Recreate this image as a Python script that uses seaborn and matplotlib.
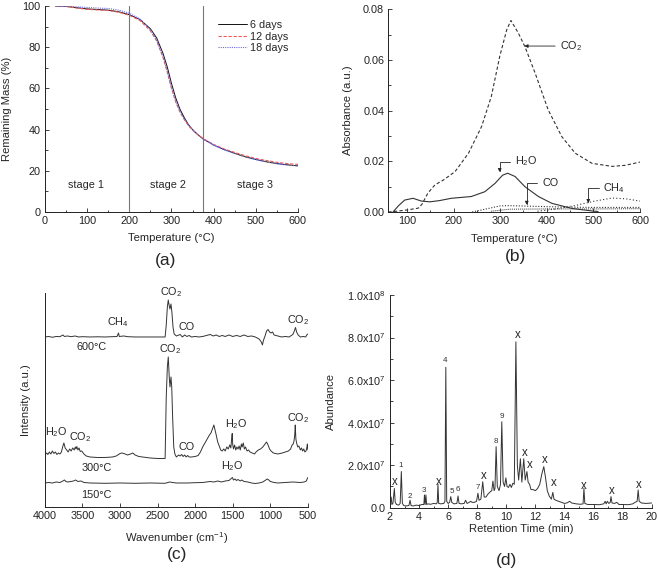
import numpy as np
import pandas as pd
import matplotlib
matplotlib.use('Agg')
import matplotlib.pyplot as plt
import seaborn as sns
from matplotlib.ticker import MultipleLocator

# ---- (a) TGA curves ----
tga_temp = [25, 50, 75, 100, 125, 150, 175, 200, 225, 250, 265, 280, 290, 300, 310,
            320, 330, 340, 350, 360, 375, 400, 425, 450, 475, 500, 525, 550, 575, 600]
mass_6d = [100, 99.8, 99.2, 98.6, 98.3, 98.0, 97.2, 95.8, 93.5, 89.0, 84.5, 77.0, 70.5, 62.5, 55.5,
           50.0, 46.0, 42.5, 40.0, 38.0, 35.5, 32.5, 30.3, 28.5, 26.8, 25.5, 24.4, 23.5, 22.9, 22.4]
mass_12d = [100, 99.8, 99.0, 98.4, 98.1, 97.8, 97.0, 95.5, 93.0, 88.0, 83.0, 75.0, 68.0, 60.0, 53.5,
            48.5, 45.0, 42.0, 39.8, 38.0, 35.6, 32.8, 30.6, 28.9, 27.3, 26.0, 25.0, 24.1, 23.5, 23.1]
mass_18d = [100, 99.9, 99.6, 99.3, 99.0, 98.8, 98.0, 96.5, 93.8, 88.5, 83.5, 75.5, 68.5, 60.5, 54.0,
            49.0, 45.3, 42.2, 40.0, 38.0, 35.4, 32.4, 30.2, 28.4, 26.7, 25.4, 24.3, 23.4, 22.8, 22.3]
stage_bounds = [200, 375]
stage_names = ['stage 1', 'stage 2', 'stage 3']
stage_x = [97, 292, 498]

# ---- (b) evolved gas absorbance ----
co2_T = [60, 73, 100, 124, 132, 145, 160, 178, 203, 232, 260, 281, 299, 314, 323, 339, 353,
         375, 403, 432, 461, 497, 540, 568, 600]
co2_A = [0, 0.0002, 0.0008, 0.0015, 0.003, 0.0075, 0.0107, 0.0126, 0.0159, 0.0232, 0.0337, 0.0456,
         0.0614, 0.0719, 0.0756, 0.0706, 0.0653, 0.0548, 0.0403, 0.0298, 0.0232, 0.0192, 0.0180,
         0.0184, 0.0197]
h2o_T = [70, 82, 95, 113, 131, 149, 170, 195, 238, 267, 289, 305, 316, 332, 353, 382, 411, 454, 497, 510]
h2o_A = [0, 0.0025, 0.0047, 0.0054, 0.0043, 0.0040, 0.0045, 0.0054, 0.0061, 0.0080, 0.0113, 0.0145,
         0.0153, 0.0140, 0.0100, 0.0061, 0.0034, 0.0014, 0.0004, 0.0002]
co_T = [240, 270, 300, 320, 360, 400, 450, 500, 600]
co_A = [0, 0.0012, 0.0024, 0.0025, 0.0023, 0.0021, 0.0019, 0.0018, 0.0018]
low_T = [280, 320, 400, 500, 600]
low_A = [0.0003, 0.0011, 0.0012, 0.0012, 0.0013]
ch4_T = [380, 420, 460, 500, 540, 570, 600]
ch4_A = [0.0003, 0.0012, 0.0025, 0.0042, 0.0055, 0.0052, 0.0043]

# ---- (c) FTIR spectra (relative to own baseline) ----
ir_600 = [(4000, 0), (3950, 0.5), (3900, -0.3), (3850, 0.5), (3800, 0.3), (3760, 2), (3740, 0.5),
          (3700, 1), (3650, 0.3), (3600, 1), (3550, 0), (3500, 0.3), (3400, 0), (3300, 0.2), (3200, 0),
          (3100, 0.3), (3040, 0.5), (3020, 4), (3010, 0.5), (2950, 1), (2900, 0.3), (2800, 0),
          (2600, 0), (2400, 0), (2385, 12), (2370, 30), (2358, 37), (2345, 31), (2335, 28),
          (2322, 33), (2310, 25), (2295, 10), (2280, 3), (2250, 1), (2200, 2.5), (2170, 0),
          (2140, 2), (2110, 0.5), (2080, 1.5), (2050, 0), (2000, 0.5), (1950, 0), (1900, 0.5),
          (1850, 1.5), (1800, 2.5), (1760, 1), (1720, 2), (1680, 0.5), (1640, 1.5), (1600, 0.5),
          (1550, 2), (1500, 0.5), (1450, 1.5), (1400, 0.5), (1350, 2), (1300, 0.5), (1250, 1),
          (1200, 0), (1150, -2), (1120, -5), (1105, -8), (1090, -3), (1070, 1), (1050, 6),
          (1030, 7.5), (1010, 5), (990, 4), (970, 5), (950, 2), (900, 1), (850, 0), (800, 0.5),
          (750, 0), (700, 2.5), (680, 6), (665, 9.5), (650, 5), (630, 2), (600, 0), (560, 0.5),
          (530, 0), (510, 2.5), (500, 3)]
ir_300 = [(4000, 2), (3975, 4), (3960, 2.5), (3940, 5), (3920, 3), (3900, 6), (3880, 3.5), (3860, 5),
          (3840, 2.5), (3820, 4), (3800, 3), (3780, 5), (3760, 11), (3747, 14), (3730, 9), (3710, 7),
          (3690, 5), (3670, 8), (3650, 6), (3630, 9), (3610, 7), (3595, 10), (3585, 8), (3575, 10.5),
          (3560, 7), (3545, 9), (3530, 5.5), (3510, 6), (3480, 3), (3450, 1), (3400, 0), (3300, -0.5),
          (3200, -0.5), (3100, 0), (3050, 1), (3000, 3.5), (2975, 4), (2950, 3.5), (2900, 2),
          (2860, 3), (2830, 4), (2800, 2), (2750, 0.5), (2700, 0), (2600, -1), (2500, -1.5),
          (2400, -1.5), (2395, 20), (2385, 60), (2370, 90), (2358, 100), (2345, 80), (2335, 70),
          (2322, 80), (2312, 70), (2300, 40), (2285, 10), (2270, 3), (2250, 0), (2220, 2), (2200, 1),
          (2180, 2.5), (2160, 0.5), (2140, 2), (2120, 0), (2100, 1.5), (2080, 0), (2050, 0),
          (2000, 0.5), (1960, 1.5), (1930, 5), (1900, 10), (1870, 14), (1840, 18), (1810, 22),
          (1790, 24), (1770, 28), (1751, 32), (1735, 27), (1720, 22), (1700, 15), (1680, 11),
          (1660, 7), (1640, 6), (1620, 8), (1600, 6), (1580, 10), (1560, 8), (1540, 12), (1525, 9),
          (1515, 18), (1507, 23.5), (1500, 12), (1490, 8), (1475, 12), (1460, 7), (1445, 10),
          (1430, 8), (1415, 11), (1400, 7), (1385, 13), (1375, 10), (1360, 14), (1345, 8),
          (1330, 10), (1310, 6), (1290, 7), (1270, 5), (1240, 4), (1210, 3), (1190, 5), (1160, 7),
          (1130, 8), (1100, 10), (1070, 13), (1050, 15), (1030, 12), (1010, 8), (990, 6), (960, 4),
          (930, 3.5), (900, 3), (870, 3.5), (840, 4), (800, 5), (760, 6), (730, 8), (710, 12),
          (695, 13), (685, 16), (675, 22), (668, 32), (660, 18), (650, 14), (635, 10), (620, 11),
          (600, 7), (585, 9), (570, 6), (555, 8), (540, 5), (525, 6), (515, 9), (507, 13), (500, 7)]
ir_150 = [(4000, 0), (3950, 0.5), (3900, 0), (3850, 1), (3800, 0.5), (3760, 2), (3740, 3), (3720, 1.5),
          (3700, 1), (3650, 1.5), (3620, 2), (3590, 3), (3560, 1.5), (3520, 2), (3480, 0.5), (3400, 0),
          (3200, -0.3), (3000, 0), (2800, -0.3), (2600, 0), (2400, -0.3), (2340, 1), (2300, 0.5),
          (2250, 0), (2100, 0), (2000, 0.3), (1900, 0.5), (1800, 1.5), (1750, 1), (1700, 2),
          (1650, 1), (1600, 2), (1550, 2.5), (1520, 4.5), (1505, 5.5), (1490, 3), (1470, 4),
          (1450, 2.5), (1430, 3.5), (1400, 2), (1380, 3), (1350, 1.5), (1300, 1), (1250, 0),
          (1200, -0.5), (1150, 0), (1100, 1), (1070, 2.5), (1040, 4), (1020, 3), (1000, 1.5),
          (950, 0.5), (900, 0), (800, 0.5), (700, 1), (600, 0.5), (550, 1), (520, 2), (505, 5),
          (500, 5.5)]
ir_offsets = {'150°C': 24, '300°C': 50, '600°C': 170}

# ---- (d) GC-MS chromatogram (abundance in 1e6) ----
gc_points = [(2.0, 2), (2.08, 5), (2.13, 1.5), (2.2, 2), (2.3, 9), (2.36, 2.5), (2.45, 1.5), (2.6, 1.2),
             (2.7, 2), (2.78, 17), (2.85, 2), (2.95, 1), (3.1, 0.8), (3.3, 1), (3.38, 3.5), (3.45, 1),
             (3.6, 0.8), (3.8, 1.2), (4.0, 1), (4.2, 1.5), (4.33, 1.5), (4.37, 6), (4.42, 1.5),
             (4.47, 6), (4.52, 1.5), (4.6, 1.8), (4.8, 1.6), (5.0, 2), (5.2, 1.8), (5.25, 2.5),
             (5.3, 11), (5.35, 2), (5.5, 1.8), (5.7, 2), (5.78, 3), (5.84, 66), (5.9, 3), (6.0, 2),
             (6.1, 2.5), (6.18, 5.2), (6.25, 2.5), (6.4, 1.8), (6.6, 2), (6.68, 5.5), (6.75, 2),
             (6.9, 1.8), (7.1, 2), (7.2, 3.5), (7.3, 2), (7.45, 2.5), (7.55, 3), (7.65, 2.5),
             (7.8, 2.5), (7.95, 3), (8.05, 6.8), (8.12, 3.5), (8.25, 4), (8.38, 12.2), (8.48, 5),
             (8.6, 5), (8.75, 6.5), (8.9, 7.5), (9.0, 8), (9.08, 12.5), (9.16, 8), (9.22, 9),
             (9.3, 28.7), (9.38, 10), (9.5, 8), (9.6, 11), (9.69, 40.4), (9.78, 12), (9.88, 10),
             (9.97, 14), (10.05, 10), (10.15, 9.5), (10.25, 11), (10.35, 9.5), (10.45, 11.5),
             (10.55, 11), (10.66, 78), (10.76, 20), (10.85, 13), (10.97, 23), (11.07, 12),
             (11.2, 23), (11.3, 13), (11.42, 17), (11.5, 12), (11.6, 11), (11.7, 8.5), (11.85, 8.5),
             (12.0, 8), (12.15, 9), (12.3, 11), (12.45, 16), (12.58, 19.3), (12.7, 14), (12.82, 8),
             (12.95, 5.5), (13.1, 4), (13.2, 7.2), (13.28, 4), (13.4, 3.5), (13.6, 3), (13.8, 2.5),
             (14.0, 2), (14.2, 2.3), (14.35, 3), (14.5, 2.2), (14.8, 1.8), (15.1, 1.6), (15.28, 1.8),
             (15.34, 9.1), (15.4, 2), (15.6, 1.5), (16.0, 1.5), (16.4, 1.4), (16.7, 1.8), (16.8, 3),
             (16.87, 1.8), (16.95, 3), (17.05, 2), (17.15, 2.5), (17.2, 5.2), (17.27, 2.2),
             (17.45, 2), (17.6, 2.5), (17.75, 1.5), (18.0, 1.5), (18.4, 1.4), (18.7, 1.8),
             (18.85, 2.5), (19.0, 3), (19.07, 8.3), (19.14, 3), (19.3, 2.2), (19.6, 2), (20.0, 2.2)]
num_labels = [('1', 2.73, 19.6), ('2', 3.38, 5.2), ('3', 4.36, 8.0), ('4', 5.8, 69), ('5', 6.29, 7.5),
              ('6', 6.7, 8.6), ('7', 8.06, 9.6), ('8', 9.29, 31), ('9', 9.68, 43)]
x_marks = [(2.34, 12.2), (5.33, 12.2), (8.42, 15), (10.76, 81), (11.29, 25.5), (11.59, 20),
           (12.67, 22.4), (13.24, 11.8), (15.35, 10.2), (17.25, 8), (19.13, 10.8)]
gc_yticks = [0, 2e7, 4e7, 6e7, 8e7, 1e8]
gc_yticklabels = ['0.0', '2.0x10$^7$', '4.0x10$^7$', '6.0x10$^7$', '8.0x10$^7$', '1.0x10$^8$']

# ---- style ----
sns.set_theme(style='ticks')
plt.rcParams['font.family'] = ['Liberation Sans', 'DejaVu Sans']
plt.rcParams['mathtext.fontset'] = 'custom'
plt.rcParams['mathtext.rm'] = 'Liberation Sans'
plt.rcParams['mathtext.it'] = 'Liberation Sans'
plt.rcParams['mathtext.default'] = 'rm'
plt.rcParams['axes.linewidth'] = 0.7
plt.rcParams['axes.edgecolor'] = '#222222'

FS = 7.8     # tick labels / annotations
LFS = 8.1    # axis labels
PFS = 12.5   # panel letters
fig = plt.figure(figsize=(6.6, 5.68), dpi=100)


def style_axis(ax):
    sns.despine(ax=ax)
    ax.tick_params(which='both', direction='in', labelsize=FS, width=0.6, colors='#222222', pad=3)
    ax.tick_params(which='major', length=3)
    ax.tick_params(which='minor', length=1.8)


# (a)
ax_a = fig.add_axes([0.068, 0.6268, 0.3835, 0.3626])
sns.lineplot(x=tga_temp, y=mass_6d, ax=ax_a, color='#111111', lw=0.7, label='6 days', estimator=None)
sns.lineplot(x=tga_temp, y=mass_12d, ax=ax_a, color='#ee5c5c', lw=0.8, linestyle=(0, (3, 1.5)),
             label='12 days', estimator=None)
sns.lineplot(x=tga_temp, y=mass_18d, ax=ax_a, color='#6c6ce2', lw=0.8, linestyle=(0, (1, 1)),
             label='18 days', estimator=None)
for b in stage_bounds:
    ax_a.axvline(b, color='#777777', lw=0.8)
for name, sx in zip(stage_names, stage_x):
    ax_a.text(sx, 13, name, fontsize=FS, ha='center', va='center')
ax_a.set_xlim(0, 600)
ax_a.set_ylim(0, 100)
ax_a.xaxis.set_major_locator(MultipleLocator(100))
ax_a.xaxis.set_minor_locator(MultipleLocator(50))
ax_a.yaxis.set_major_locator(MultipleLocator(20))
ax_a.yaxis.set_minor_locator(MultipleLocator(10))
ax_a.set_xlabel('Temperature (°C)', fontsize=LFS)
ax_a.set_ylabel('Remaining Mass (%)', fontsize=LFS)
ax_a.xaxis.set_label_coords(0.5, -0.104)
ax_a.yaxis.set_label_coords(-0.128, 0.5)
ax_a.legend(loc='upper right', frameon=False, fontsize=FS, handlelength=2.6, handletextpad=0.3,
            labelspacing=0.15, bbox_to_anchor=(1.0, 0.98))
style_axis(ax_a)

# (b)
ax_b = fig.add_axes([0.5884, 0.6268, 0.3813, 0.3568])
sns.lineplot(x=co2_T, y=co2_A, ax=ax_b, color='#333333', lw=0.8, linestyle=(0, (3, 2)), estimator=None)
sns.lineplot(x=h2o_T, y=h2o_A, ax=ax_b, color='#333333', lw=0.8, estimator=None)
sns.lineplot(x=co_T, y=co_A, ax=ax_b, color='#333333', lw=0.8, linestyle=(0, (1, 1.5)), estimator=None)
sns.lineplot(x=low_T, y=low_A, ax=ax_b, color='#333333', lw=0.7, linestyle=(0, (1, 1)), estimator=None)
sns.lineplot(x=ch4_T, y=ch4_A, ax=ax_b, color='#333333', lw=0.8, linestyle=(0, (1, 2)), estimator=None)
arr = dict(arrowstyle='-|>', color='#222222', lw=0.6, mutation_scale=5, shrinkA=1, shrinkB=0)
ax_b.annotate('CO$_2$', xy=(352, 0.0655), xytext=(428, 0.0655), fontsize=FS, ha='left', va='center',
              arrowprops=arr)
ax_b.annotate('H$_2$O', xy=(299, 0.0157), xytext=(332, 0.0199), fontsize=FS, ha='left', va='center',
              arrowprops=dict(arr, connectionstyle='angle,angleA=0,angleB=90,rad=0'))
ax_b.annotate('CO', xy=(357, 0.0028), xytext=(390, 0.0116), fontsize=FS, ha='left', va='center',
              arrowprops=dict(arr, connectionstyle='angle,angleA=0,angleB=90,rad=0'))
ax_b.annotate('CH$_4$', xy=(489, 0.0035), xytext=(521, 0.0094), fontsize=FS, ha='left', va='center',
              arrowprops=dict(arr, connectionstyle='angle,angleA=0,angleB=90,rad=0'))
ax_b.set_xlim(60, 600)
ax_b.set_ylim(0, 0.08)
ax_b.set_xticks([100, 200, 300, 400, 500, 600])
ax_b.xaxis.set_minor_locator(MultipleLocator(50))
ax_b.yaxis.set_major_locator(MultipleLocator(0.02))
ax_b.yaxis.set_minor_locator(MultipleLocator(0.01))
ax_b.yaxis.set_major_formatter(matplotlib.ticker.FormatStrFormatter('%.2f'))
ax_b.set_xlabel('Temperature (°C)', fontsize=LFS)
ax_b.set_ylabel('Absorbance (a.u.)', fontsize=LFS)
ax_b.xaxis.set_label_coords(0.5, -0.108)
ax_b.yaxis.set_label_coords(-0.142, 0.5)
style_axis(ax_b)

# (c)
ax_c = fig.add_axes([0.068, 0.1074, 0.3985, 0.3768])
for spec, key in [(ir_150, '150°C'), (ir_300, '300°C'), (ir_600, '600°C')]:
    wn, val = zip(*spec)
    sns.lineplot(x=list(wn), y=np.array(val) + ir_offsets[key], ax=ax_c, color='#333333', lw=0.7,
                 estimator=None, sort=False)
ax_c.text(3380, 160, '600°C', fontsize=FS, ha='center', va='center')
ax_c.text(3310, 39, '300°C', fontsize=FS, ha='center', va='center')
ax_c.text(3320, 12, '150°C', fontsize=FS, ha='center', va='center')
for txt, wx, wy in [('CO$_2$', 2314, 215), ('CH$_4$', 3024, 185), ('CO', 2115, 180), ('CO$_2$', 630, 187),
                    ('CO$_2$', 2337, 158), ('H$_2$O', 3846, 75), ('CO$_2$', 3534, 70), ('CO', 2115, 60),
                    ('H$_2$O', 1453, 83), ('CO$_2$', 630, 89), ('H$_2$O', 1503, 41)]:
    ax_c.text(wx, wy, txt, fontsize=FS, ha='center', va='center', clip_on=False)
ax_c.set_xlim(4000, 500)
ax_c.set_ylim(0, 214)
ax_c.xaxis.set_major_locator(MultipleLocator(500))
ax_c.set_yticks([])
ax_c.set_xlabel('Wavenumber (cm$^{-1}$)', fontsize=LFS)
ax_c.set_ylabel('Intensity (a.u.)', fontsize=LFS)
ax_c.xaxis.set_label_coords(0.5, -0.108)
ax_c.yaxis.set_label_coords(-0.051, 0.5)
style_axis(ax_c)

# (d)
ax_d = fig.add_axes([0.5909, 0.1062, 0.3965, 0.3744])
gt, ga = zip(*gc_points)
sns.lineplot(x=list(gt), y=np.array(ga) * 1e6, ax=ax_d, color='#333333', lw=0.7, estimator=None)
for txt, tx, ty in num_labels:
    ax_d.text(tx, ty * 1e6, txt, fontsize=5.8, ha='center', va='center', color='#333333')
for tx, ty in x_marks:
    ax_d.text(tx, ty * 1e6, 'x', fontsize=FS + 0.5, ha='center', va='center')
ax_d.set_xlim(2, 20)
ax_d.set_ylim(0, 1e8)
ax_d.xaxis.set_major_locator(MultipleLocator(2))
ax_d.xaxis.set_minor_locator(MultipleLocator(1))
ax_d.set_yticks(gc_yticks)
ax_d.set_yticklabels(gc_yticklabels)
ax_d.yaxis.set_minor_locator(MultipleLocator(1e7))
ax_d.set_xlabel('Retention Time (min)', fontsize=LFS)
ax_d.set_ylabel('Abundance', fontsize=LFS)
ax_d.xaxis.set_label_coords(0.5, -0.076)
ax_d.yaxis.set_label_coords(-0.206, 0.5)
style_axis(ax_d)

fig.text(165.7 / 660, 1 - 260 / 568, '(a)', fontsize=PFS, ha='center', va='center')
fig.text(515 / 660, 1 - 256 / 568, '(b)', fontsize=PFS, ha='center', va='center')
fig.text(176.7 / 660, 1 - 555 / 568, '(c)', fontsize=PFS, ha='center', va='center')
fig.text(506.7 / 660, 1 - 560 / 568, '(d)', fontsize=PFS, ha='center', va='center')

fig.savefig('out.png', dpi=100)
